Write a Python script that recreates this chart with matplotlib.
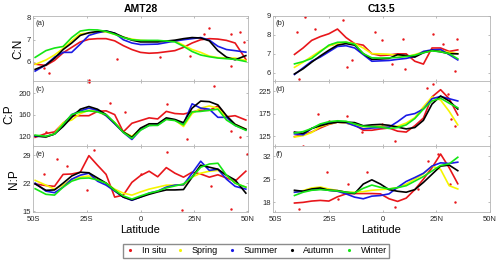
import matplotlib
matplotlib.use('Agg')
import matplotlib.pyplot as plt
from matplotlib.lines import Line2D

plt.rcParams['font.family'] = ['Liberation Sans', 'DejaVu Sans']

# latitude grids (negative = south)
lat_amt = [-49, -44, -40, -36, -32, -28, -24, -20, -16, -12, -8, -4, 0, 4, 8, 12, 16, 20, 24, 28, 32, 36, 40, 44, 49]
lat_c13 = [-41, -37, -33, -29, -25, -21, -17, -13, -9, -5, -1, 3, 7, 11, 15, 19, 23, 27, 31, 35]

seasons = ['In situ', 'Spring', 'Summer', 'Autumn', 'Winter']
colors = ['#e8161b', '#f5f500', '#1a1ae6', '#000000', '#14e614']

# AMT28 C:N
amt_cn_insitu = [5.88, 5.82, 6.05, 6.4, 6.65, 6.9, 7.02, 7.05, 7.05, 6.95, 6.73, 6.55, 6.42, 6.38, 6.4, 6.45, 6.5, 6.65, 6.85, 7.0, 7.05, 7.03, 6.97, 6.85, 6.1]
amt_cn_spring = [5.87, 6.07, 6.3, 6.6, 6.95, 7.27, 7.31, 7.34, 7.36, 7.25, 7.12, 7.03, 6.97, 6.95, 6.94, 6.95, 6.95, 6.75, 6.55, 6.42, 6.25, 6.18, 6.16, 6.16, 6.05]
amt_cn_summer = [5.56, 5.85, 6.2, 6.42, 6.42, 6.8, 7.2, 7.32, 7.4, 7.3, 7.0, 6.85, 6.78, 6.79, 6.8, 6.87, 6.94, 7.0, 7.05, 7.1, 6.98, 6.7, 6.55, 6.5, 6.43]
amt_cn_autumn = [5.64, 5.84, 6.15, 6.55, 6.85, 7.2, 7.32, 7.38, 7.4, 7.3, 7.12, 6.98, 6.9, 6.9, 6.9, 6.94, 6.98, 7.05, 7.1, 7.08, 6.95, 6.5, 6.2, 6.08, 6.27]
amt_cn_winter = [6.19, 6.5, 6.62, 6.69, 7.1, 7.4, 7.46, 7.45, 7.38, 7.25, 7.1, 7.0, 6.97, 6.97, 6.97, 6.94, 6.9, 6.7, 6.46, 6.3, 6.22, 6.16, 6.13, 6.1, 6.0]

# AMT28 C:P
amt_cp_insitu = [118, 125, 128, 144, 158, 158, 158, 166, 167, 160, 128, 144, 149, 154, 152, 166, 162, 161, 165, 168, 168, 176, 156, 158, 150]
amt_cp_spring = [121, 118, 125, 145, 150, 162, 168, 166, 158, 145, 128, 120, 133, 142, 142, 152, 150, 138, 162, 172, 176, 172, 155, 142, 133]
amt_cp_summer = [120, 119, 124, 140, 160, 167, 172, 168, 158, 143, 127, 114, 132, 140, 141, 152, 150, 143, 180, 172, 170, 155, 155, 140, 132]
amt_cp_autumn = [121, 119, 124, 138, 155, 170, 175, 170, 160, 144, 128, 118, 135, 143, 143, 154, 151, 145, 172, 185, 184, 178, 158, 142, 133]
amt_cp_winter = [122, 120, 124, 142, 160, 165, 167, 165, 160, 145, 127, 116, 131, 140, 140, 151, 149, 141, 165, 166, 168, 170, 150, 140, 131]

# AMT28 N:P
amt_np_insitu = [21.8, 21.4, 21.2, 24.2, 24.3, 24.75, 28.9, 26.5, 24.2, 18.5, 19.0, 22.2, 23.9, 25.0, 23.6, 25.9, 24.5, 23.5, 24.75, 24.3, 23.5, 24.1, 23.3, 22.5, 25.0]
amt_np_spring = [22.7, 21.5, 20.5, 21.5, 23.0, 23.5, 23.8, 23.0, 22.0, 20.5, 19.5, 19.0, 19.8, 20.5, 21.0, 21.5, 21.5, 21.5, 23.5, 24.5, 25.0, 25.2, 24.0, 22.0, 21.0]
amt_np_summer = [22.0, 20.0, 19.6, 21.0, 23.0, 24.0, 24.5, 22.5, 21.5, 20.0, 18.5, 17.7, 18.5, 19.5, 20.0, 21.0, 21.5, 21.6, 24.5, 27.5, 25.2, 25.5, 23.0, 21.2, 20.5]
amt_np_autumn = [21.8, 20.2, 20.3, 22.0, 23.8, 24.75, 24.6, 23.3, 22.0, 20.2, 18.5, 17.8, 18.5, 19.2, 19.8, 20.3, 20.3, 20.4, 23.5, 26.5, 26.0, 25.5, 24.0, 22.8, 19.5]
amt_np_winter = [20.6, 19.2, 19.0, 21.0, 22.5, 23.2, 23.3, 22.8, 22.0, 20.2, 18.8, 18.0, 18.8, 19.5, 20.0, 20.8, 21.3, 21.8, 23.5, 26.0, 26.8, 27.0, 24.0, 22.0, 21.0]

# C13.5 C:N
c13_cn_insitu = [6.96, 7.3, 7.7, 7.9, 8.05, 8.3, 7.85, 7.53, 7.45, 7.0, 6.9, 6.93, 6.99, 6.99, 6.6, 6.45, 7.3, 7.3, 7.12, 7.2]
c13_cn_spring = [6.28, 6.55, 6.85, 7.15, 7.4, 7.55, 7.6, 7.53, 7.3, 7.0, 6.99, 6.97, 6.9, 6.85, 6.95, 7.1, 7.17, 7.15, 7.07, 7.0]
c13_cn_summer = [5.9, 6.25, 6.6, 6.82, 7.1, 7.38, 7.42, 7.3, 6.95, 6.6, 6.62, 6.64, 6.7, 6.75, 6.85, 7.12, 7.2, 7.22, 6.95, 6.67]
c13_cn_autumn = [5.93, 6.2, 6.55, 6.88, 7.18, 7.45, 7.53, 7.45, 7.0, 6.7, 6.72, 6.75, 6.95, 6.9, 6.82, 7.05, 7.17, 7.1, 7.0, 6.99]
c13_cn_winter = [6.46, 6.58, 6.75, 7.1, 7.45, 7.6, 7.61, 7.5, 7.0, 6.78, 6.77, 6.78, 6.8, 6.85, 6.92, 7.05, 7.15, 7.1, 7.0, 6.73]

# C13.5 C:P
c13_cp_insitu = [124, 128, 134, 143, 151, 156, 154, 150, 138, 138, 141, 143, 136, 134, 148, 165, 212, 228, 208, 172]
c13_cp_spring = [123, 126, 133, 146, 152, 156, 154, 149, 146, 146, 147, 146, 147, 154, 166, 190, 212, 205, 180, 150]
c13_cp_summer = [130, 128, 142, 150, 155, 156, 155, 148, 141, 143, 144, 145, 157, 171, 175, 185, 208, 213, 208, 203]
c13_cp_autumn = [134, 131, 142, 148, 153, 156, 156, 155, 148, 150, 151, 149, 145, 141, 144, 160, 196, 214, 203, 185]
c13_cp_winter = [132, 135, 142, 152, 157, 159, 158, 152, 147, 146, 145, 142, 144, 150, 164, 185, 203, 209, 198, 188]

# C13.5 N:P
c13_np_insitu = [17.7, 17.9, 18.3, 18.5, 18.3, 19.6, 20.5, 20.6, 20.6, 20.6, 20.5, 19.0, 18.2, 19.2, 21.8, 25.0, 28.5, 32.7, 28.5, 23.6]
c13_np_spring = [21.0, 21.5, 22.3, 22.6, 22.0, 21.5, 21.0, 21.0, 21.2, 21.6, 21.8, 22.0, 22.4, 23.5, 25.0, 26.6, 29.0, 28.0, 23.0, 22.0]
c13_np_summer = [21.0, 21.3, 21.7, 22.0, 21.6, 21.3, 20.5, 19.5, 19.0, 19.8, 20.0, 20.5, 22.5, 24.3, 25.5, 26.8, 29.0, 30.0, 29.8, 30.2]
c13_np_autumn = [21.6, 21.3, 22.0, 22.3, 21.6, 21.5, 21.0, 20.6, 23.5, 24.8, 23.5, 21.8, 21.3, 21.0, 21.8, 24.0, 26.5, 29.0, 29.3, 27.6]
c13_np_winter = [20.0, 21.0, 21.6, 21.8, 21.6, 21.4, 21.0, 20.8, 22.2, 23.2, 22.5, 22.0, 22.4, 23.0, 24.4, 25.8, 27.5, 29.2, 29.7, 31.7]

# scattered in situ samples
amt_cn_pts_lat = [-42.5, -45, -24, -11, 9, 23, 29.5, 32, 42, 46.5, 42, 48]
amt_cn_pts_val = [5.48, 5.7, 5.15, 6.1, 6.22, 6.27, 7.28, 7.56, 7.28, 7.36, 5.8, 6.9]
amt_cp_pts_lat = [-44, -24, -14, -7, 12.4, 29.5, 34, 42, 46.5, 21.7]
amt_cp_pts_val = [127, 220, 182, 164, 179, 173, 213, 130, 118, 115]
amt_np_pts_lat = [-45, -38.8, -24.8, -21.7, 12.4, 19.4, 32.6, 42, 49.6, -34, 0]
amt_np_pts_val = [24.3, 28.1, 20.2, 30.2, 29.75, 15.2, 21.4, 15.6, 29.3, 26.4, 24.3]
c13_cn_pts_lat = [-40, -36, -31.5, -23.7, -18.3, -16.7, -14.4, -3.6, -0.5, 4.2, 10.4, 23.5, 28.2, 33.6, 34.7, -39, 9.6]
c13_cn_pts_val = [8.15, 8.95, 8.3, 7.5, 8.77, 6.3, 6.64, 8.15, 7.7, 6.46, 6.2, 8.06, 7.5, 6.1, 7.8, 5.66, 7.8]
c13_cp_pts_lat = [-37, -30, -25, -16.7, -9.8, -0.5, 5.7, 20.5, 23.6, 30.5, 32, 33.6]
c13_cp_pts_val = [104, 174, 159, 170, 134, 152, 115, 232, 240, 218, 163, 148]
c13_np_pts_lat = [-39, -26, -20.6, -16, -7.4, 5.7, 16.6, 21.2, 25.9, 31.3, 33.6]
c13_np_pts_val = [16, 27.1, 19, 23.6, 27.1, 16.5, 22, 30.7, 32.7, 23.6, 18]

panels = [
    (lat_amt, [amt_cn_insitu, amt_cn_spring, amt_cn_summer, amt_cn_autumn, amt_cn_winter], amt_cn_pts_lat, amt_cn_pts_val, (5.1, 8.1), [6, 7, 8], '(a)'),
    (lat_c13, [c13_cn_insitu, c13_cn_spring, c13_cn_summer, c13_cn_autumn, c13_cn_winter], c13_cn_pts_lat, c13_cn_pts_val, (5.55, 9.0), [6, 7, 8, 9], '(b)'),
    (lat_amt, [amt_cp_insitu, amt_cp_spring, amt_cp_summer, amt_cp_autumn, amt_cp_winter], amt_cp_pts_lat, amt_cp_pts_val, (101, 222), [120, 160, 200], '(c)'),
    (lat_c13, [c13_cp_insitu, c13_cp_spring, c13_cp_summer, c13_cp_autumn, c13_cp_winter], c13_cp_pts_lat, c13_cp_pts_val, (102, 247), [125, 175, 225], '(d)'),
    (lat_amt, [amt_np_insitu, amt_np_spring, amt_np_summer, amt_np_autumn, amt_np_winter], amt_np_pts_lat, amt_np_pts_val, (14.8, 31.2), [15, 22, 29], '(e)'),
    (lat_c13, [c13_np_insitu, c13_np_spring, c13_np_summer, c13_np_autumn, c13_np_winter], c13_np_pts_lat, c13_np_pts_val, (15.0, 35.0), [18, 25, 32], '(f)'),
]

xticks = [-50, -25, 0, 25, 50]
xlabels = ['50S', '25S', '0', '25N', '50N']
ylabels = ['C:N', 'C:P', 'N:P']

fig = plt.figure(figsize=(5, 2.63), dpi=100)
top = 0.940
h = 0.2485
lefts = [0.066, 0.546]
widths = [0.430, 0.434]

for i, (lats, series, plat, pval, ylim, yt, tag) in enumerate(panels):
    row, col = i // 2, i % 2
    ax = fig.add_axes([lefts[col], top - (row + 1) * h, widths[col], h])
    ax.plot(plat, pval, '.', color=colors[0], ms=1.5, zorder=1)
    for s in range(5):
        ax.plot(lats, series[s], color=colors[s], lw=1.2, zorder=2)
    ax.set_ylim(ylim)
    ax.set_yticks(yt)
    ax.set_xlim((-50, 50) if col == 0 else (-51, 50))
    ax.set_xticks(xticks)
    if row == 2:
        ax.set_xticklabels(xlabels)
        ax.set_xlabel('Latitude', fontsize=8, labelpad=1.5)
    else:
        ax.set_xticklabels([])
    if col == 0:
        ax.set_ylabel(ylabels[row], fontsize=8.5, labelpad=2)
    if row == 0:
        ax.set_title('AMT28' if col == 0 else 'C13.5', fontsize=7.5, fontweight='bold', pad=2.5)
    ax.text(0.012, 0.875, tag, transform=ax.transAxes, fontsize=5.5, va='center', color='#262626')
    ax.tick_params(direction='in', length=1.5, width=0.5, labelsize=5.5, pad=1.5,
                   top=True, right=True, colors='#a0a0a0', labelcolor='#262626')
    ax.tick_params(axis='x', pad=3)
    for sp in ax.spines.values():
        sp.set_color('#b4b4b4')
        sp.set_linewidth(0.6)

handles = [Line2D([], [], marker='.', ls='none', color=c, ms=2.5) for c in colors]
fig.legend(handles, seasons, loc='center', bbox_to_anchor=(0.512, 0.046), ncol=5, fontsize=6.5,
           frameon=True, fancybox=False, edgecolor='#8c8c8c', framealpha=1, handlelength=1.0,
           handletextpad=0.8, columnspacing=1.05, borderpad=0.25, borderaxespad=0)

fig.savefig('out.png', dpi=100)
